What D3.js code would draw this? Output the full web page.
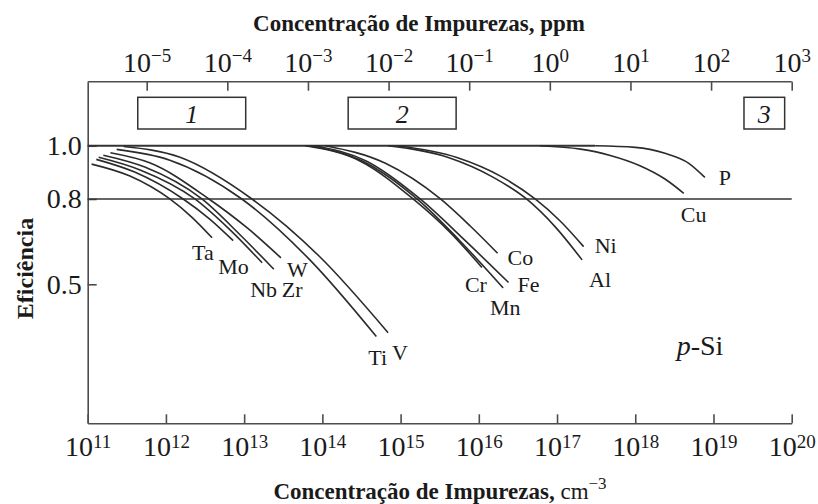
<!DOCTYPE html>
<html>
<head>
<meta charset="utf-8">
<script src="https://cdn.jsdelivr.net/npm/d3@7"></script>
<style>
  body { margin: 0; background: #fff; }
  svg { display: block; font-family: "Liberation Serif", "Times New Roman", serif; }
</style>
</head>
<body>
<svg width="818" height="504"></svg>
<script>
// exponents of the axes (10^n)
var bottomExp = [11, 12, 13, 14, 15, 16, 17, 18, 19, 20];
var topExp = [-5, -4, -3, -2, -1, 0, 1, 2, 3];
var yTicks = [1.0, 0.8, 0.5];

// curves: [log10 concentration (cm^-3), efficiency]
var Ta = [[11.05, 0.93], [11.54, 0.885], [12.05, 0.80], [12.33, 0.734], [12.59, 0.66]];
var Mo = [[11.11, 0.948], [11.6, 0.90], [12.22, 0.80], [12.56, 0.727], [12.86, 0.65]];
var Nb = [[11.14, 0.956], [11.67, 0.908], [12.37, 0.80], [12.82, 0.688], [13.23, 0.573]];
var Zr = [[11.2, 0.964], [11.73, 0.919], [12.46, 0.80], [12.95, 0.67], [13.38, 0.551]];
var W  = [[11.29, 0.973], [11.8, 0.934], [12.55, 0.80], [13.04, 0.695], [13.47, 0.59]];
var Ti = [[11.37, 0.986], [12.05, 0.945], [12.97, 0.80], [13.84, 0.583], [14.69, 0.332]];
var V  = [[11.46, 0.997], [12.18, 0.956], [13.1, 0.80], [13.97, 0.593], [14.84, 0.344]];
var Cr = [[13.78, 1.0], [14.48, 0.942], [15.16, 0.80], [15.63, 0.68], [16.04, 0.557]];
var Mn = [[13.84, 1.0], [14.51, 0.942], [15.21, 0.80], [15.76, 0.649], [16.31, 0.488]];
var Fe = [[13.91, 1.0], [14.56, 0.942], [15.25, 0.80], [15.83, 0.649], [16.38, 0.506]];
var Co = [[14.04, 1.0], [14.8, 0.934], [15.51, 0.80], [15.89, 0.702], [16.24, 0.606]];
var Al = [[14.84, 1.0], [15.61, 0.955], [16.18, 0.881], [16.61, 0.80], [16.98, 0.698], [17.32, 0.583]];
var Ni = [[14.96, 1.0], [15.72, 0.955], [16.3, 0.881], [16.72, 0.80], [17.04, 0.72], [17.34, 0.629]];
var Cu = [[16.78, 1.0], [17.3, 0.987], [17.68, 0.963], [18.06, 0.924], [18.38, 0.874], [18.62, 0.821]];
var P  = [[17.49, 1.0], [18.0, 0.994], [18.38, 0.971], [18.68, 0.934], [18.89, 0.88]];

var names = ["Ta", "Mo", "Nb", "Zr", "W", "Ti", "V", "Cr", "Mn", "Fe", "Co", "Al", "Ni", "Cu", "P"];
var curves = [Ta, Mo, Nb, Zr, W, Ti, V, Cr, Mn, Fe, Co, Al, Ni, Cu, P];

// impurity ranges marked by boxes 1, 2, 3 (log10 cm^-3)
var boxNames = ["1", "2", "3"];
var boxRanges = [[11.64, 13.02], [14.33, 15.71], [19.39, 19.91]];

// label offsets from curve end, in pixels
var labelOffset = {
  Ta: [-20, 22], Mo: [-15, 33], Nb: [-12, 34], Zr: [8, 28], W: [6, 19],
  Ti: [-8, 28], V: [4, 27], Cr: [-17, 25], Mn: [-13, 27], Fe: [9, 9],
  Co: [10, 12], Ni: [11, 6], Al: [7, 27], Cu: [-3, 29], P: [14, 8]
};

var svg = d3.select("svg");
var serif = '"Liberation Serif", "Times New Roman", serif';
var mLeft = 87.7, mRight = 791.7, mTop = 81.7, mBottom = 423.3;
var ink = "#1a1a1a", axisCol = "#4d4d4d";

var x = d3.scaleLog().domain([1e11, 1e20]).range([mLeft, mRight]);
var xTop = d3.scaleLog().domain([1e-5, 1e3]).range([146.7, mRight]);
var y = d3.scalePow().exponent(0.8).domain([0.0913, 1.2518]).range([mBottom, mTop]);

function sup(n) { return n < 0 ? "\u2212" + (-n) : "" + n; }

// bottom axis
var gx = svg.append("g").attr("transform", "translate(0," + mBottom + ")")
    .call(d3.axisBottom(x).tickValues(bottomExp.map(function(e) { return Math.pow(10, e); }))
      .tickSize(-9).tickSizeOuter(0));
gx.selectAll(".tick text").each(function(d) {
  var t = d3.select(this).text(null).attr("y", 33).attr("dy", null)
      .attr("font-size", 28).attr("fill", ink);
  t.append("tspan").text("10");
  t.append("tspan").attr("dy", -8).attr("font-size", 19).text(sup(Math.round(Math.log10(d))));
});

// top axis (ppm)
var gt = svg.append("g").attr("transform", "translate(0," + mTop + ")")
    .call(d3.axisTop(xTop).tickValues(topExp.map(function(e) { return Math.pow(10, e); }))
      .tickSize(-9).tickSizeOuter(0));
gt.select(".domain").remove();
gt.selectAll(".tick text").each(function(d) {
  var t = d3.select(this).text(null).attr("y", -10).attr("dy", null)
      .attr("font-size", 28).attr("fill", ink);
  t.append("tspan").text("10");
  t.append("tspan").attr("dy", -10).attr("font-size", 19).text(sup(Math.round(Math.log10(d))));
});
svg.append("line").attr("class", "frame")
    .attr("x1", mLeft).attr("x2", mRight).attr("y1", mTop).attr("y2", mTop);

// left axis
var gy = svg.append("g").attr("transform", "translate(" + mLeft + ",0)")
    .call(d3.axisLeft(y).tickValues(yTicks).tickFormat(d3.format(".1f"))
      .tickSize(-9).tickSizeOuter(0).tickPadding(6));
gy.selectAll(".tick text").attr("font-size", 28).attr("fill", ink);

[gx, gt, gy].forEach(function(g) {
  g.attr("font-family", serif).attr("font-size", null);
  g.selectAll("text").attr("font-family", serif);
});
svg.selectAll(".domain, .tick line, .frame")
    .attr("stroke", axisCol).attr("stroke-width", 1.6);

// reference lines at 1.0 and 0.8
svg.append("line").attr("x1", mLeft).attr("x2", x(Math.pow(10, P[0][0])))
    .attr("y1", y(1)).attr("y2", y(1)).attr("stroke", "#333").attr("stroke-width", 1.8);
svg.append("line").attr("x1", mLeft).attr("x2", mRight)
    .attr("y1", y(0.8)).attr("y2", y(0.8)).attr("stroke", "#333").attr("stroke-width", 1.6);

// curves
var line = d3.line()
    .x(function(d) { return x(Math.pow(10, d[0])); })
    .y(function(d) { return y(d[1]); })
    .curve(d3.curveMonotoneX);

svg.append("g").selectAll("path").data(curves).enter().append("path")
    .attr("d", line).attr("fill", "none").attr("stroke", "#2b2b2b").attr("stroke-width", 1.6);

svg.append("g").selectAll("text").data(curves).enter().append("text")
    .attr("x", function(d, i) { var e = d[d.length - 1]; return x(Math.pow(10, e[0])) + labelOffset[names[i]][0]; })
    .attr("y", function(d, i) { var e = d[d.length - 1]; return y(e[1]) + labelOffset[names[i]][1]; })
    .attr("font-size", 22).attr("fill", ink)
    .text(function(d, i) { return names[i]; });

// boxes
var boxes = svg.append("g").selectAll("g").data(boxRanges).enter().append("g");
boxes.append("rect")
    .attr("x", function(d) { return x(Math.pow(10, d[0])); })
    .attr("width", function(d) { return x(Math.pow(10, d[1])) - x(Math.pow(10, d[0])); })
    .attr("y", mTop + 15.6).attr("height", 31.7)
    .attr("fill", "none").attr("stroke", "#333").attr("stroke-width", 1.5);
boxes.append("text")
    .attr("x", function(d) { return (x(Math.pow(10, d[0])) + x(Math.pow(10, d[1]))) / 2; })
    .attr("y", mTop + 41.5).attr("text-anchor", "middle")
    .attr("font-size", 26).attr("font-style", "italic").attr("fill", ink)
    .text(function(d, i) { return boxNames[i]; });

// p-Si
var psi = svg.append("text").attr("x", 676.7).attr("y", 355).attr("font-size", 28).attr("fill", ink);
psi.append("tspan").attr("font-style", "italic").text("p");
psi.append("tspan").text("-Si");

// titles
svg.append("text").attr("x", 419).attr("y", 31).attr("text-anchor", "middle")
    .attr("font-size", 23).attr("font-weight", "bold").attr("fill", ink)
    .text("Concentração de Impurezas, ppm");

var bt = svg.append("text").attr("x", 440).attr("y", 499).attr("text-anchor", "middle")
    .attr("font-size", 23).attr("font-weight", "bold").attr("fill", ink);
bt.append("tspan").text("Concentração de Impurezas, ");
bt.append("tspan").attr("font-weight", "normal").text("cm");
bt.append("tspan").attr("dy", -10).attr("font-size", 17).attr("font-weight", "normal").text("\u22123");

svg.append("text").attr("transform", "translate(33,268.5) rotate(-90)")
    .attr("text-anchor", "middle").attr("font-size", 24).attr("font-weight", "bold").attr("fill", ink)
    .text("Eficiência");
</script>
</body>
</html>
